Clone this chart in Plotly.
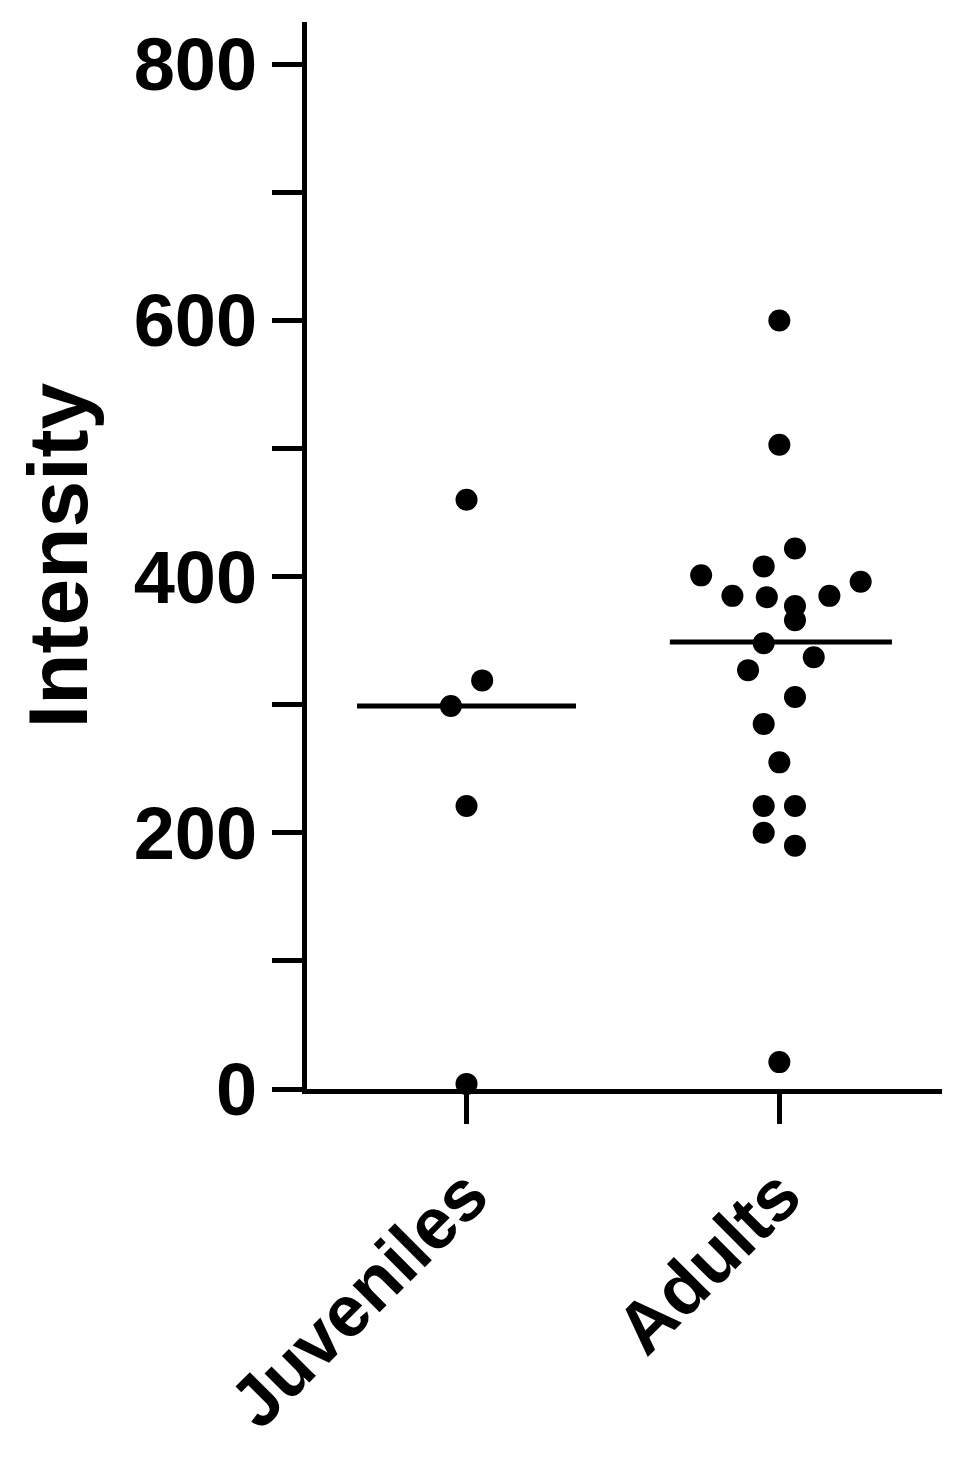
import plotly.graph_objects as go

categories = ["Juveniles", "Adults"]
juv_offsets = [0.0, 0.05, -0.05, 0.0, 0.0]
juv_values = [460, 319, 299, 221, 4]
adu_offsets = [0.0, 0.0, 0.05, -0.25, -0.05, 0.26, -0.15, -0.04, 0.05, 0.05, 0.16,
               -0.05, 0.11, -0.10, 0.05, -0.05, 0.0, -0.05, 0.05, -0.05, 0.05, 0.0]
adu_values = [600, 503, 422, 401, 408, 396, 385, 384, 377, 366, 385,
              348, 337, 327, 306, 285, 255, 221, 221, 200, 190, 21]
medians = [299, 349]
median_left = [-0.35, -0.35]
median_right = [0.35, 0.36]

fig = go.Figure()
fig.add_trace(go.Scatter(x=[0 + o for o in juv_offsets], y=juv_values, mode="markers",
                         marker=dict(color="black", size=22), cliponaxis=False))
fig.add_trace(go.Scatter(x=[1 + o for o in adu_offsets], y=adu_values, mode="markers",
                         marker=dict(color="black", size=22), cliponaxis=False))
for i, m in enumerate(medians):
    fig.add_trace(go.Scatter(x=[median_left[i] + i, median_right[i] + i], y=[m, m], mode="lines",
                             line=dict(color="black", width=5), cliponaxis=False))

font = dict(family="Liberation Sans, Arial", size=74, color="black")
fig.update_layout(
    width=964, height=1484, showlegend=False,
    plot_bgcolor="white", paper_bgcolor="white",
    margin=dict(l=299, r=30, t=14, b=403),
    xaxis=dict(range=[-0.51, 1.52], tickvals=[0, 1], ticktext=["<b>Juveniles</b>", "<b>Adults</b>"],
               tickangle=-45, ticks="outside", ticklen=30, tickwidth=5, tickcolor="black",
               showline=True, linewidth=5, linecolor="black", showgrid=False, zeroline=False,
               tickfont=dict(family="Liberation Sans, Arial", size=72, color="black")),
    yaxis=dict(range=[0, 833], tickvals=list(range(0, 801, 100)),
               ticktext=["<b>%d</b>" % v if v % 200 == 0 else "" for v in range(0, 801, 100)],
               ticks="outside", ticklen=30, tickwidth=5, tickcolor="black",
               showline=True, linewidth=5, linecolor="black", showgrid=False, zeroline=False,
               tickfont=font,
               title=dict(text="<b>Intensity</b>", font=dict(family="Liberation Sans, Arial", size=84, color="black"),
                          standoff=20)),
)
fig.write_html("out.html")
